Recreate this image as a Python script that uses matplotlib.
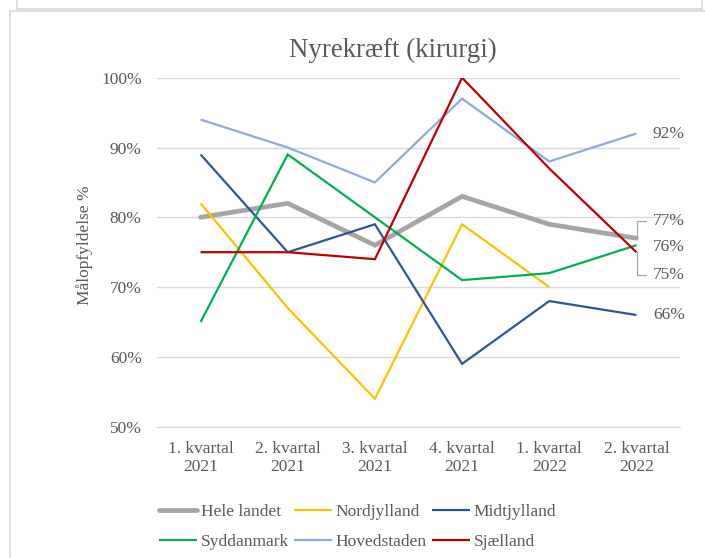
import matplotlib
matplotlib.use("Agg")
import matplotlib.pyplot as plt
from matplotlib.lines import Line2D
import numpy as np

categories = ["1. kvartal\n2021", "2. kvartal\n2021", "3. kvartal\n2021",
              "4. kvartal\n2021", "1. kvartal\n2022", "2. kvartal\n2022"]
hele_landet = [80, 82, 76, 83, 79, 77]
nordjylland = [82, 67, 54, 79, 70, None]
midtjylland = [89, 75, 79, 59, 68, 66]
syddanmark = [65, 89, 80, 71, 72, 76]
hovedstaden = [94, 90, 85, 97, 88, 92]
sjaelland = [75, 75, 74, 100, 87, 75]
yticks = [50, 60, 70, 80, 90, 100]

series = [
    ("Hele landet", hele_landet, "#A5A5A5", 3.4),
    ("Nordjylland", nordjylland, "#FFC000", 1.6),
    ("Midtjylland", midtjylland, "#2F5597", 1.6),
    ("Syddanmark", syddanmark, "#00B050", 1.6),
    ("Hovedstaden", hovedstaden, "#8FAADC", 1.6),
    ("Sjælland", sjaelland, "#C00000", 1.6),
]

plt.rcParams['font.family'] = ['Liberation Serif', 'DejaVu Serif']
txt = "#595959"
fs = 12.5
W, H = 705, 558
fig = plt.figure(figsize=(W / 100, H / 100), dpi=100)

ax = fig.add_axes([157 / W, 1 - 426.7 / H, (680 - 157) / W, (426.7 - 77.7) / H])
x = np.arange(len(categories))
handles = {}
for name, vals, col, lw in series:
    v = np.array([np.nan if a is None else a for a in vals], dtype=float)
    ln, = ax.plot(x, v, color=col, lw=lw, solid_capstyle='round' if lw > 3 else 'butt',
                  solid_joinstyle='miter', zorder=3)
    handles[name] = ln

ax.set_xlim(-0.5, len(categories) - 0.5)
ax.set_ylim(50, 100)
ax.set_yticks(yticks)
ax.set_yticklabels([f"{t}%" for t in yticks])
ax.set_xticks(x)
ax.set_xticklabels(categories, linespacing=1.2)
ax.grid(axis='y', color='#D9D9D9', lw=1)
ax.set_axisbelow(True)
for s in ['left', 'right', 'top']:
    ax.spines[s].set_visible(False)
ax.spines['bottom'].set_color('#D9D9D9')
ax.tick_params(axis='both', length=0, colors=txt, labelsize=fs)
ax.tick_params(axis='y', pad=11)
ax.tick_params(axis='x', pad=10)
ax.set_ylabel("Målopfyldelse %", color=txt, fontsize=fs)
ax.yaxis.set_label_coords(-0.122, 0.52)
fig.text(393 / W, 1 - 50 / H, "Nyrekræft (kirurgi)", color=txt, fontsize=19.4,
         ha='center', va='center')

# end labels
last = len(categories) - 1
lab_x = last + 0.19
def endlab(y, v):
    ax.text(lab_x, y, f"{v}%", color=txt, fontsize=fs, va='center', ha='left',
            clip_on=False)
endlab(hovedstaden[last], hovedstaden[last])
endlab(midtjylland[last], midtjylland[last])
endlab(75.7, syddanmark[last])
endlab(79.5, hele_landet[last])
endlab(71.8, sjaelland[last])
# leader bracket
bx0 = last + 0.01
bx1 = last + 0.11
ax.plot([bx1, bx0, bx0], [79.5, 79.5, hele_landet[last]], color='#A6A6A6', lw=0.9,
        clip_on=False, zorder=2)
ax.plot([bx0, bx0, bx1], [sjaelland[last], 71.8, 71.8], color='#A6A6A6', lw=0.9,
        clip_on=False, zorder=2)

order = ["Hele landet", "Syddanmark", "Nordjylland", "Hovedstaden", "Midtjylland", "Sjælland"]
leg = fig.legend([handles[n] for n in order], order, loc='upper left',
                 bbox_to_anchor=(152 / W, 1 - 497 / H), ncol=3, frameon=False,
                 fontsize=fs, handlelength=2.2, handletextpad=0.2,
                 columnspacing=0.3, labelspacing=0.78, borderaxespad=0)
for t in leg.get_texts():
    t.set_color(txt)

# frame
c = '#D9D9D9'
fig.add_artist(Line2D([10 / W, 10 / W], [0, 1 - 10.7 / H], color=c, lw=1.2))
fig.add_artist(Line2D([10 / W, 1], [1 - 10.7 / H, 1 - 10.7 / H], color=c, lw=1.2))
fig.add_artist(Line2D([16.7 / W, 701.7 / W], [1 - 9 / H, 1 - 9 / H], color=c, lw=1.2))
fig.add_artist(Line2D([16.7 / W, 16.7 / W], [1 - 9 / H, 1], color=c, lw=1.2))
fig.add_artist(Line2D([701.7 / W, 701.7 / W], [1 - 9 / H, 1], color=c, lw=1.2))

fig.savefig("out.png", dpi=100)
